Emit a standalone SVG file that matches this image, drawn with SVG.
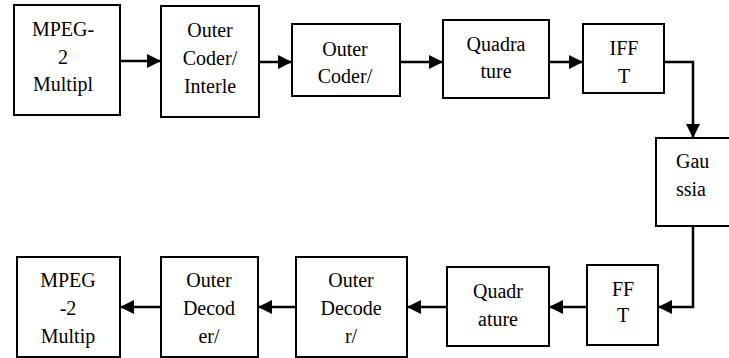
<svg xmlns="http://www.w3.org/2000/svg" width="729" height="358" viewBox="0 0 729 358">
<style>
.box{fill:#fff;stroke:#000;stroke-width:2}
.c{fill:none;stroke:#000;stroke-width:2.5}
</style>
<defs>
<marker id="ah" viewBox="0 0 14 14" refX="14" refY="7" markerWidth="14" markerHeight="14" markerUnits="userSpaceOnUse" orient="auto">
<path d="M0,0 L14,7 L0,14 z" fill="#000"/>
</marker>
</defs>
<rect width="729" height="358" fill="#fff"/>
<g id="connectors">
<line class="c" x1="120" y1="61" x2="161" y2="61" marker-end="url(#ah)"/>
<line class="c" x1="259" y1="62" x2="292" y2="62" marker-end="url(#ah)"/>
<line class="c" x1="400" y1="62" x2="443" y2="62" marker-end="url(#ah)"/>
<line class="c" x1="549" y1="62" x2="583" y2="62" marker-end="url(#ah)"/>
<polyline class="c" points="664,62 693,62 693,138" marker-end="url(#ah)"/>
<polyline class="c" points="693,226 693,307 658,307" marker-end="url(#ah)"/>
<line class="c" x1="587" y1="307" x2="549" y2="307" marker-end="url(#ah)"/>
<line class="c" x1="447" y1="307" x2="407" y2="307" marker-end="url(#ah)"/>
<line class="c" x1="296" y1="307" x2="258" y2="307" marker-end="url(#ah)"/>
<line class="c" x1="161" y1="307" x2="120" y2="307" marker-end="url(#ah)"/>
</g>
<g font-family="Liberation Serif, Times New Roman, serif" font-size="20" fill="#000">
<g id="mux" text-anchor="middle">
<rect class="box" x="14" y="5" width="106" height="110"/>
<text x="63" y="36">MPEG-</text>
<text x="63" y="64">2</text>
<text x="63" y="91">Multipl</text>
</g>
<g id="outer-coder-interleaver" text-anchor="middle">
<rect class="box" x="161" y="6" width="98" height="111"/>
<text x="210" y="37">Outer</text>
<text x="210" y="65">Coder/</text>
<text x="210" y="93">Interle</text>
</g>
<g id="outer-coder" text-anchor="middle">
<rect class="box" x="292" y="24" width="108" height="72"/>
<text x="345" y="56">Outer</text>
<text x="345" y="83">Coder/</text>
</g>
<g id="quadrature-tx" text-anchor="middle">
<rect class="box" x="443" y="20" width="106" height="78"/>
<text x="496" y="51">Quadra</text>
<text x="496" y="78">ture</text>
</g>
<g id="ifft" text-anchor="middle">
<rect class="box" x="583" y="24" width="81" height="69"/>
<text x="624" y="55">IFF</text>
<text x="624" y="83">T</text>
</g>
<g id="gaussian">
<rect class="box" x="656" y="138" width="76" height="88"/>
<text x="676" y="168">Gau</text>
<text x="676" y="196">ssia</text>
</g>
<g id="fft" text-anchor="middle">
<rect class="box" x="587" y="265" width="71" height="80"/>
<text x="623" y="296">FF</text>
<text x="623" y="322">T</text>
</g>
<g id="quadrature-rx" text-anchor="middle">
<rect class="box" x="447" y="267" width="102" height="79"/>
<text x="498" y="298">Quadr</text>
<text x="498" y="326">ature</text>
</g>
<g id="outer-decoder-2" text-anchor="middle">
<rect class="box" x="296" y="257" width="111" height="100"/>
<text x="351" y="287">Outer</text>
<text x="351" y="315">Decode</text>
<text x="351" y="343">r/</text>
</g>
<g id="outer-decoder-1" text-anchor="middle">
<rect class="box" x="161" y="257" width="97" height="100"/>
<text x="209" y="287">Outer</text>
<text x="209" y="315">Decod</text>
<text x="209" y="343">er/</text>
</g>
<g id="demux" text-anchor="middle">
<rect class="box" x="17" y="257" width="103" height="100"/>
<text x="68" y="287">MPEG</text>
<text x="68" y="315">-2</text>
<text x="68" y="343">Multip</text>
</g>
</g>
</svg>
